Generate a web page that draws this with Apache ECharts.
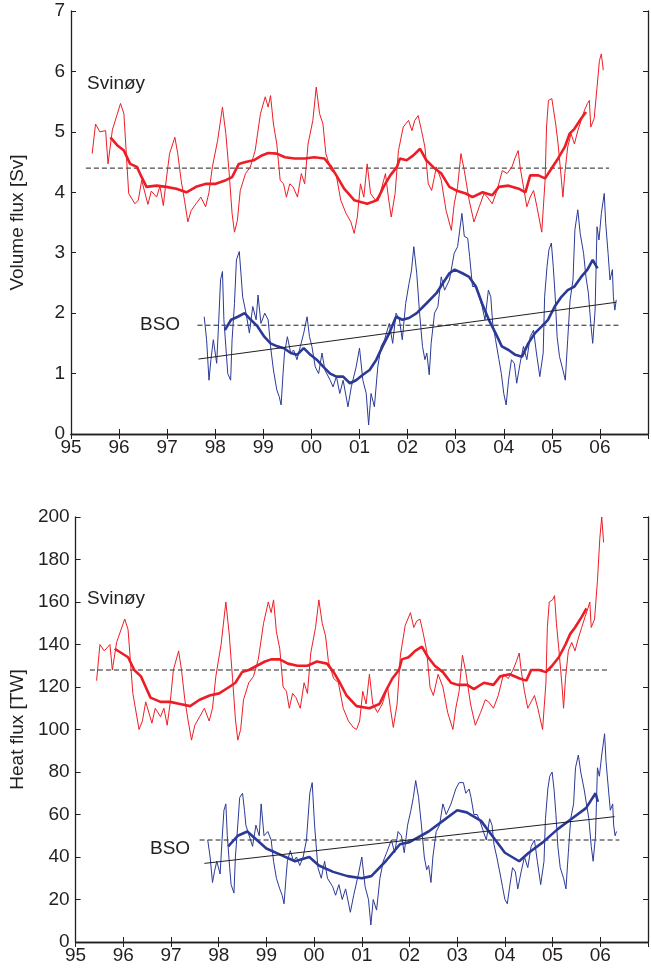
<!DOCTYPE html>
<html>
<head>
<meta charset="utf-8">
<script src="https://cdn.jsdelivr.net/npm/echarts@6/dist/echarts.min.js"></script>
<style>
  html, body { margin: 0; padding: 0; background: #fff; }
  #chart { width: 651px; height: 971px; }
</style>
</head>
<body>
<div id="chart"></div>
<script>
// year labels on the time axis (95 .. 06)
const yearTicks = ['95', '96', '97', '98', '99', '00', '01', '02', '03', '04', '05', '06']

// ---- volume flux [Sv] ----
const svinoyVolThin = [
  [95.44, 4.64], [95.51, 5.13], [95.6, 5.0], [95.72, 5.02], [95.77, 4.47], [95.86, 5.03], [96.03, 5.47],
  [96.1, 5.3], [96.2, 3.98], [96.33, 3.81], [96.4, 3.87], [96.47, 4.2], [96.6, 3.8], [96.67, 4.02],
  [96.78, 3.92], [96.85, 4.1], [96.92, 3.78], [96.98, 4.2], [97.05, 4.64], [97.16, 4.91], [97.22, 4.64],
  [97.29, 4.2], [97.36, 3.87], [97.43, 3.51], [97.5, 3.7], [97.6, 3.81], [97.7, 3.92], [97.8, 3.76],
  [97.87, 4.0], [97.94, 4.42], [98.05, 4.86], [98.15, 5.41], [98.22, 4.97], [98.29, 4.31], [98.35, 3.65],
  [98.4, 3.34], [98.46, 3.53], [98.52, 4.03], [98.63, 4.31], [98.73, 4.42], [98.83, 4.69], [98.94, 5.3],
  [99.04, 5.58], [99.1, 5.41], [99.15, 5.6], [99.21, 5.13], [99.28, 4.8], [99.35, 4.2], [99.42, 4.14],
  [99.48, 3.92], [99.55, 4.14], [99.62, 4.09], [99.71, 3.92], [99.79, 4.31], [99.86, 4.14], [99.93, 4.8],
  [100.03, 5.19], [100.1, 5.74], [100.17, 5.3], [100.24, 5.13], [100.3, 4.64], [100.41, 4.36],
  [100.51, 4.31], [100.61, 3.87], [100.72, 3.65], [100.82, 3.51], [100.89, 3.32], [100.955, 3.59],
  [101.02, 4.14], [101.09, 3.92], [101.16, 4.47], [101.23, 3.98], [101.33, 3.87], [101.43, 3.98],
  [101.54, 4.31], [101.6, 3.92], [101.66, 3.59], [101.74, 3.98], [101.81, 4.69], [101.91, 5.08],
  [102.02, 5.19], [102.09, 5.02], [102.15, 5.19], [102.22, 5.27], [102.29, 5.02], [102.36, 4.75],
  [102.43, 4.14], [102.5, 4.03], [102.6, 4.42], [102.7, 4.2], [102.8, 3.7], [102.91, 3.37], [102.97, 3.81],
  [103.04, 4.09], [103.11, 4.64], [103.18, 4.36], [103.28, 3.87], [103.38, 3.51], [103.49, 3.76],
  [103.59, 3.98], [103.66, 3.92], [103.76, 3.81], [103.86, 4.03], [103.97, 4.36], [104.07, 4.31],
  [104.17, 4.42], [104.24, 4.58], [104.3, 4.69], [104.34, 4.42], [104.41, 4.09], [104.48, 3.76],
  [104.55, 3.92], [104.62, 4.03], [104.69, 3.76], [104.75, 3.51], [104.79, 3.34], [104.86, 4.2],
  [104.89, 5.08], [104.93, 5.52], [105.0, 5.55], [105.04, 5.58], [105.08, 5.13], [105.13, 4.8],
  [105.2, 4.2], [105.23, 3.92], [105.27, 4.31], [105.33, 4.75], [105.4, 4.97], [105.47, 4.8],
  [105.54, 5.02], [105.61, 5.19], [105.68, 5.36], [105.74, 5.47], [105.78, 5.52], [105.81, 5.08],
  [105.88, 5.22], [105.94, 5.74], [105.99, 6.18], [106.03, 6.29], [106.07, 6.02]
]
const svinoyVolThick = [
  [95.82, 4.91], [95.96, 4.78], [96.1, 4.69], [96.23, 4.47], [96.37, 4.42], [96.47, 4.25], [96.57, 4.09],
  [96.78, 4.11], [96.98, 4.09], [97.19, 4.06], [97.4, 4.0], [97.6, 4.09], [97.81, 4.14], [98.01, 4.14],
  [98.22, 4.2], [98.35, 4.25], [98.49, 4.47], [98.63, 4.5], [98.8, 4.53], [98.97, 4.61], [99.1, 4.65],
  [99.28, 4.64], [99.45, 4.58], [99.65, 4.56], [99.86, 4.56], [100.06, 4.58], [100.27, 4.56],
  [100.41, 4.42], [100.54, 4.25], [100.68, 4.06], [100.89, 3.87], [101.16, 3.81], [101.37, 3.87],
  [101.5, 4.09], [101.64, 4.28], [101.78, 4.42], [101.84, 4.56], [101.98, 4.53], [102.12, 4.61],
  [102.26, 4.72], [102.39, 4.53], [102.53, 4.42], [102.7, 4.31], [102.87, 4.09], [103.01, 4.03],
  [103.21, 3.98], [103.35, 3.92], [103.56, 4.0], [103.76, 3.95], [103.9, 4.09], [104.1, 4.11],
  [104.31, 4.06], [104.45, 4.0], [104.55, 4.28], [104.72, 4.28], [104.86, 4.23], [104.99, 4.39],
  [105.13, 4.56], [105.27, 4.75], [105.37, 4.97], [105.47, 5.05], [105.61, 5.22], [105.71, 5.33]
]
const bsoVolThin = [
  [97.77, 1.94], [97.82, 1.56], [97.87, 0.89], [97.91, 1.23], [97.96, 1.56], [98.03, 1.17], [98.07, 1.83],
  [98.11, 2.55], [98.15, 2.69], [98.18, 1.89], [98.23, 1.34], [98.26, 1.0], [98.32, 0.89], [98.35, 1.56],
  [98.4, 2.16], [98.44, 2.88], [98.5, 3.02], [98.54, 2.6], [98.57, 2.27], [98.64, 2.0], [98.71, 1.67],
  [98.78, 2.11], [98.85, 1.89], [98.89, 2.3], [98.95, 1.83], [99.03, 2.0], [99.1, 1.89], [99.15, 1.45],
  [99.21, 1.06], [99.28, 0.73], [99.33, 0.62], [99.37, 0.48], [99.41, 1.0], [99.44, 1.34], [99.5, 1.61],
  [99.57, 1.34], [99.63, 1.39], [99.7, 1.23], [99.77, 1.45], [99.84, 1.67], [99.91, 1.94], [99.96, 1.61],
  [100.01, 1.45], [100.08, 1.11], [100.15, 1.0], [100.22, 1.34], [100.28, 1.06], [100.39, 0.89],
  [100.45, 0.78], [100.52, 0.95], [100.59, 0.67], [100.66, 0.89], [100.76, 0.45], [100.83, 0.78],
  [100.93, 1.11], [101.0, 1.42], [101.07, 0.89], [101.14, 0.67], [101.19, 0.15], [101.24, 0.67],
  [101.31, 0.45], [101.38, 1.11], [101.45, 1.45], [101.52, 1.56], [101.62, 1.83], [101.69, 1.5],
  [101.76, 2.0], [101.83, 1.89], [101.89, 1.56], [101.96, 2.16], [102.03, 2.49], [102.08, 2.7],
  [102.13, 3.1], [102.19, 2.66], [102.25, 2.0], [102.31, 1.45], [102.36, 1.23], [102.4, 1.34],
  [102.45, 0.98], [102.49, 1.5], [102.56, 2.0], [102.63, 2.11], [102.7, 2.6], [102.77, 2.38],
  [102.87, 2.55], [102.97, 2.99], [103.04, 3.1], [103.13, 3.65], [103.18, 3.27], [103.25, 3.24],
  [103.29, 2.94], [103.35, 2.44], [103.42, 2.44], [103.49, 2.27], [103.55, 2.11], [103.61, 1.89],
  [103.68, 2.38], [103.73, 2.27], [103.77, 1.83], [103.83, 1.56], [103.9, 1.23], [103.95, 1.0],
  [104.0, 0.67], [104.05, 0.48], [104.1, 0.89], [104.16, 1.23], [104.22, 1.17], [104.27, 0.84],
  [104.34, 1.17], [104.41, 1.45], [104.48, 1.23], [104.55, 1.61], [104.62, 1.72], [104.68, 1.34],
  [104.75, 0.95], [104.82, 1.34], [104.85, 2.27], [104.9, 2.77], [104.94, 3.05], [104.99, 3.16],
  [105.03, 2.77], [105.07, 2.27], [105.11, 1.61], [105.16, 1.28], [105.23, 1.06], [105.28, 0.89],
  [105.33, 1.56], [105.38, 2.22], [105.44, 2.55], [105.48, 3.38], [105.54, 3.71], [105.59, 3.32],
  [105.66, 2.99], [105.71, 2.6], [105.76, 2.33], [105.81, 1.83], [105.85, 1.5], [105.9, 2.05],
  [105.94, 3.43], [105.98, 3.21], [106.03, 3.65], [106.09, 3.98], [106.12, 3.49], [106.17, 2.99],
  [106.21, 2.55], [106.26, 2.72], [106.28, 2.27], [106.31, 2.05], [106.34, 2.22]
]
const bsoVolThick = [
  [98.2, 1.72], [98.33, 1.89], [98.47, 1.94], [98.61, 2.0], [98.74, 1.89], [98.88, 1.78], [99.02, 1.61],
  [99.15, 1.5], [99.29, 1.45], [99.43, 1.42], [99.57, 1.34], [99.7, 1.31], [99.84, 1.42], [99.98, 1.31],
  [100.11, 1.23], [100.25, 1.11], [100.39, 1.0], [100.52, 0.95], [100.66, 0.95], [100.8, 0.84],
  [100.93, 0.89], [101.07, 0.98], [101.21, 1.06], [101.35, 1.23], [101.48, 1.45], [101.62, 1.67],
  [101.76, 1.94], [101.89, 1.89], [102.03, 1.92], [102.19, 2.0], [102.39, 2.16], [102.6, 2.33],
  [102.73, 2.49], [102.87, 2.66], [102.98, 2.72], [103.14, 2.66], [103.28, 2.6], [103.42, 2.44],
  [103.55, 2.16], [103.69, 1.89], [103.83, 1.67], [103.96, 1.45], [104.1, 1.39], [104.24, 1.31],
  [104.38, 1.28], [104.51, 1.5], [104.65, 1.67], [104.79, 1.78], [104.92, 1.89], [105.06, 2.11],
  [105.2, 2.27], [105.33, 2.38], [105.47, 2.44], [105.61, 2.6], [105.74, 2.72], [105.85, 2.88], [105.95, 2.74]
]
const bsoVolTrend = [[97.65, 1.24], [106.34, 2.18]]
const svinoyVolMean = [[95.31, 4.4], [106.19, 4.4]]
const bsoVolMean = [[97.63, 1.8], [106.44, 1.8]]

// ---- heat flux [TW] ----
const svinoyHeatThin = [
  [95.44, 123], [95.51, 140], [95.6, 137], [95.72, 140], [95.77, 128], [95.86, 141], [96.03, 152],
  [96.1, 147], [96.2, 117], [96.33, 100], [96.4, 104], [96.47, 113], [96.6, 103], [96.67, 110],
  [96.78, 106], [96.85, 110], [96.92, 102], [96.98, 112], [97.05, 128], [97.16, 137], [97.22, 128],
  [97.29, 114], [97.36, 104], [97.43, 95], [97.5, 102], [97.6, 106], [97.7, 110], [97.8, 104],
  [97.87, 110], [97.94, 125], [98.05, 140], [98.15, 160], [98.22, 145], [98.29, 124], [98.35, 105],
  [98.4, 95], [98.46, 100], [98.52, 114], [98.63, 122], [98.73, 125], [98.83, 133], [98.94, 150],
  [99.04, 160], [99.1, 155], [99.15, 161], [99.21, 146], [99.28, 138], [99.35, 120], [99.42, 118],
  [99.48, 110], [99.55, 117], [99.62, 115], [99.71, 110], [99.79, 122], [99.86, 117], [99.93, 136],
  [100.03, 148], [100.1, 161], [100.17, 150], [100.24, 144], [100.3, 132], [100.41, 124], [100.51, 122],
  [100.61, 110], [100.72, 104], [100.82, 101], [100.89, 100], [100.955, 104], [101.02, 118], [101.09, 112],
  [101.16, 126], [101.23, 112], [101.33, 108], [101.43, 112], [101.54, 120], [101.6, 110], [101.66, 101],
  [101.74, 112], [101.81, 135], [101.91, 149], [102.02, 155], [102.09, 148], [102.15, 151], [102.22, 152],
  [102.29, 145], [102.36, 137], [102.43, 120], [102.5, 116], [102.6, 126], [102.7, 120], [102.8, 108],
  [102.91, 100], [102.97, 110], [103.04, 118], [103.11, 135], [103.18, 127], [103.28, 112], [103.38, 102],
  [103.49, 108], [103.59, 114], [103.66, 113], [103.76, 110], [103.86, 116], [103.97, 126], [104.07, 124],
  [104.17, 128], [104.24, 132], [104.3, 136], [104.34, 128], [104.41, 118], [104.48, 110], [104.55, 113],
  [104.62, 116], [104.69, 110], [104.75, 104], [104.79, 100], [104.86, 122], [104.89, 148], [104.93, 160],
  [105.0, 161], [105.04, 163], [105.08, 150], [105.13, 138], [105.2, 120], [105.23, 110], [105.27, 124],
  [105.33, 137], [105.4, 141], [105.47, 137], [105.54, 143], [105.61, 148], [105.68, 153], [105.74, 157],
  [105.78, 160], [105.81, 148], [105.88, 152], [105.94, 170], [105.99, 190], [106.03, 200], [106.07, 188]
]
const svinoyHeatThick = [
  [95.82, 138], [95.96, 136], [96.1, 134], [96.23, 128], [96.37, 125], [96.47, 120], [96.57, 115],
  [96.78, 113], [96.98, 113], [97.19, 112], [97.4, 111], [97.6, 114], [97.81, 116], [98.01, 117],
  [98.22, 120], [98.35, 122], [98.49, 127], [98.63, 128], [98.8, 130], [98.97, 132], [99.1, 133],
  [99.28, 133], [99.45, 131], [99.65, 130], [99.86, 130], [100.06, 132], [100.27, 131], [100.41, 127],
  [100.54, 122], [100.68, 116], [100.89, 111], [101.16, 110], [101.37, 112], [101.5, 118], [101.64, 124],
  [101.78, 128], [101.84, 133], [101.98, 134], [102.12, 137], [102.26, 139], [102.39, 134], [102.53, 130],
  [102.7, 127], [102.87, 122], [103.01, 121], [103.21, 121], [103.35, 119], [103.56, 122], [103.76, 121],
  [103.9, 125], [104.1, 126], [104.31, 124], [104.45, 123], [104.55, 128], [104.72, 128], [104.86, 127],
  [104.99, 130], [105.13, 134], [105.27, 140], [105.37, 145], [105.47, 148], [105.61, 153], [105.71, 157]
]
const bsoHeatThin = [
  [97.77, 48], [97.82, 40], [97.87, 28], [97.91, 33], [97.96, 38], [98.03, 32], [98.07, 48], [98.11, 62],
  [98.15, 65], [98.18, 50], [98.23, 35], [98.26, 27], [98.32, 23], [98.35, 40], [98.4, 55], [98.44, 68],
  [98.5, 70], [98.54, 62], [98.57, 55], [98.64, 50], [98.71, 45], [98.78, 55], [98.85, 50], [98.89, 65],
  [98.95, 50], [99.03, 52], [99.1, 48], [99.15, 38], [99.21, 30], [99.28, 25], [99.33, 22], [99.37, 18],
  [99.41, 30], [99.44, 38], [99.5, 43], [99.57, 38], [99.63, 40], [99.7, 36], [99.77, 40], [99.84, 48],
  [99.91, 70], [99.96, 75], [100.01, 55], [100.08, 35], [100.15, 30], [100.22, 38], [100.28, 30],
  [100.39, 26], [100.45, 22], [100.52, 27], [100.59, 20], [100.66, 25], [100.76, 14], [100.83, 22],
  [100.93, 32], [101.0, 40], [101.07, 26], [101.14, 20], [101.19, 8], [101.24, 20], [101.31, 15],
  [101.38, 30], [101.45, 38], [101.52, 42], [101.62, 48], [101.69, 42], [101.76, 52], [101.83, 50],
  [101.89, 42], [101.96, 55], [102.03, 62], [102.08, 68], [102.13, 76], [102.19, 68], [102.25, 55],
  [102.31, 40], [102.36, 34], [102.4, 36], [102.45, 28], [102.49, 40], [102.56, 52], [102.63, 55],
  [102.7, 65], [102.77, 60], [102.87, 65], [102.97, 72], [103.04, 75], [103.13, 75], [103.18, 70],
  [103.25, 72], [103.29, 68], [103.35, 60], [103.42, 60], [103.49, 56], [103.55, 52], [103.61, 48],
  [103.68, 58], [103.73, 55], [103.77, 46], [103.83, 40], [103.9, 32], [103.95, 26], [104.0, 20],
  [104.05, 18], [104.1, 26], [104.16, 35], [104.22, 33], [104.27, 25], [104.34, 33], [104.41, 40],
  [104.48, 35], [104.55, 45], [104.62, 48], [104.68, 38], [104.75, 27], [104.82, 38], [104.85, 58],
  [104.9, 72], [104.94, 78], [104.99, 80], [105.03, 72], [105.07, 60], [105.11, 45], [105.16, 35],
  [105.23, 30], [105.28, 25], [105.33, 42], [105.38, 58], [105.44, 65], [105.48, 82], [105.54, 88],
  [105.59, 80], [105.66, 72], [105.71, 65], [105.76, 58], [105.81, 45], [105.85, 38], [105.9, 50],
  [105.94, 82], [105.98, 78], [106.03, 88], [106.09, 98], [106.12, 85], [106.17, 72], [106.21, 62],
  [106.26, 65], [106.28, 55], [106.31, 50], [106.34, 52]
]
const bsoHeatThick = [
  [98.2, 45], [98.4, 50], [98.6, 52], [98.8, 48], [99.0, 44], [99.3, 41], [99.6, 38], [99.9, 40],
  [100.1, 36], [100.4, 33], [100.7, 31], [101.0, 30], [101.2, 31], [101.5, 38], [101.8, 46], [102.0, 47],
  [102.4, 52], [102.7, 57], [103.0, 62], [103.2, 61], [103.5, 57], [103.8, 48], [104.0, 42], [104.3, 38],
  [104.5, 42], [104.8, 47], [105.1, 53], [105.4, 58], [105.7, 63], [105.9, 70], [105.95, 66]
]
const bsoHeatTrend = [[97.7, 37], [106.3, 59]]
const svinoyHeatMean = [[95.3, 128], [106.2, 128]]
const bsoHeatMean = [[97.6, 48], [106.4, 48]]

const RED = '#ee1d25'
const BLUE = '#2b3a97'
const INK = '#231f20'
const FONT = 'Liberation Sans, Arial, sans-serif'

const chart = echarts.init(document.getElementById('chart'), null, { renderer: 'canvas' })

function xAxisFor(gridIndex, pos) {
  return {
    type: 'value', gridIndex: gridIndex, position: pos, min: 95, max: 107, interval: 1,
    axisLine: { lineStyle: { color: INK, width: 1.3 } },
    axisTick: { inside: true, length: 5, lineStyle: { color: INK } },
    splitLine: { show: false },
    axisLabel: {
      show: pos === 'bottom', color: INK, fontSize: 19, fontFamily: FONT, margin: 4,
      formatter: function (v) { return yearTicks[Math.round(v) - 95] || '' }
    }
  }
}
function yAxisFor(gridIndex, pos, max, step, name) {
  return {
    type: 'value', gridIndex: gridIndex, position: pos, min: 0, max: max, interval: step,
    name: pos === 'left' ? name : '', nameLocation: 'middle', nameGap: 44,
    nameTextStyle: { color: INK, fontSize: 19, fontFamily: FONT },
    axisLine: { show: true, lineStyle: { color: INK, width: 1.3 } },
    axisTick: { inside: true, length: 5, lineStyle: { color: INK } },
    splitLine: { show: false },
    axisLabel: { show: pos === 'left', color: INK, fontSize: 19, fontFamily: FONT, margin: 6 }
  }
}
function line(data, xi, yi, color, width, extra) {
  return Object.assign({
    type: 'line', xAxisIndex: xi, yAxisIndex: yi, data: data, showSymbol: false, symbol: 'none',
    lineStyle: { color: color, width: width }, silent: true, animation: false, z: 3
  }, extra || {})
}
const dashed = { lineStyle: { color: INK, width: 1, type: [5, 3] }, z: 2 }

chart.setOption({
  backgroundColor: '#fff',
  animation: false,
  grid: [
    { left: 71, top: 11, width: 584, height: 423 },
    { left: 72, top: 517, width: 585, height: 425 }
  ],
  xAxis: [xAxisFor(0, 'bottom'), xAxisFor(0, 'top'), xAxisFor(1, 'bottom'), xAxisFor(1, 'top')],
  yAxis: [
    yAxisFor(0, 'left', 7, 1, 'Volume flux [Sv]'), yAxisFor(0, 'right', 7, 1),
    yAxisFor(1, 'left', 200, 20, 'Heat flux [TW]'), yAxisFor(1, 'right', 200, 20)
  ],
  graphic: [
    { type: 'text', left: 87, top: 74, style: { text: 'Svinøy', fill: INK, font: '19px ' + FONT } },
    { type: 'text', left: 140, top: 315, style: { text: 'BSO', fill: INK, font: '19px ' + FONT } },
    { type: 'text', left: 87, top: 589, style: { text: 'Svinøy', fill: INK, font: '19px ' + FONT } },
    { type: 'text', left: 150, top: 839, style: { text: 'BSO', fill: INK, font: '19px ' + FONT } }
  ],
  series: [
    line(svinoyVolMean, 0, 0, INK, 1, dashed),
    line(bsoVolMean, 0, 0, INK, 1, dashed),
    line(svinoyVolThin, 0, 0, RED, 1),
    line(svinoyVolThick, 0, 0, RED, 2.6),
    line(bsoVolThin, 0, 0, BLUE, 1),
    line(bsoVolThick, 0, 0, BLUE, 2.6),
    line(bsoVolTrend, 0, 0, INK, 1, { z: 4 }),
    line(svinoyHeatMean, 2, 2, INK, 1, dashed),
    line(bsoHeatMean, 2, 2, INK, 1, dashed),
    line(svinoyHeatThin, 2, 2, RED, 1),
    line(svinoyHeatThick, 2, 2, RED, 2.6),
    line(bsoHeatThin, 2, 2, BLUE, 1),
    line(bsoHeatThick, 2, 2, BLUE, 2.6),
    line(bsoHeatTrend, 2, 2, INK, 1, { z: 4 })
  ]
})
</script>
</body>
</html>
